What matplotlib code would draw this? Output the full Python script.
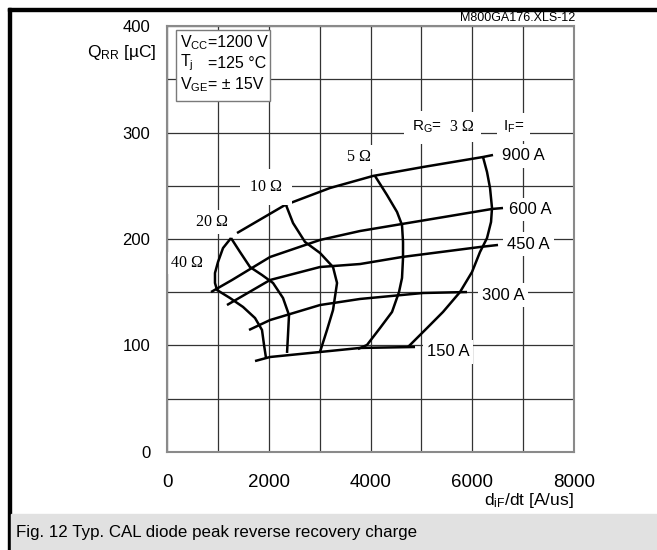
import matplotlib.pyplot as plt
from matplotlib.patches import Rectangle

plt.rcParams['font.family'] = ['Liberation Sans', 'DejaVu Sans']
plt.rcParams['mathtext.fontset'] = 'custom'
plt.rcParams['mathtext.rm'] = 'Liberation Sans'
plt.rcParams['mathtext.it'] = 'Liberation Sans:italic'

# Q_rr vs di/dt at constant forward current (A/us, uC)
if_labels = ["900 A", "600 A", "450 A", "300 A", "150 A"]
didt_900 = [1376, 2319, 3204, 4049, 5032, 6211, 6408]
qrr_900 = [205.6, 231.9, 247.9, 259.2, 267.6, 277.0, 278.9]
didt_600 = [865, 1278, 2025, 3007, 3794, 4619, 5563, 6388, 6604]
qrr_600 = [150.2, 161.5, 183.1, 199.1, 207.5, 214.1, 221.6, 228.2, 229.1]
didt_450 = [1179, 2025, 3007, 3794, 4619, 6152, 6506]
qrr_450 = [138.0, 161.5, 173.7, 176.5, 183.1, 192.5, 194.4]
didt_300 = [1612, 2025, 3007, 3794, 5032, 5897]
qrr_300 = [114.6, 123.9, 138.0, 143.7, 149.3, 150.2]
didt_150 = [1730, 2025, 3007, 3794, 4875]
qrr_150 = [85.4, 89.2, 93.9, 97.7, 98.6]

# constant gate resistance curves
rg_labels = ["3 Ω", "5 Ω", "10 Ω", "20 Ω", "40 Ω"]
didt_3 = [6211, 6290, 6349, 6388, 6369, 6290, 6152, 5995, 5759, 5425, 5111, 4737]
qrr_3 = [277.0, 262.9, 247.9, 229.1, 216.0, 200.9, 187.8, 169.0, 150.2, 131.5, 116.4, 98.6]
didt_5 = [4088, 4324, 4521, 4619, 4639, 4639, 4619, 4560, 4423, 4187, 3931, 3754]
qrr_5 = [259.2, 241.3, 225.4, 213.1, 197.2, 182.2, 163.4, 150.2, 131.5, 116.4, 100.5, 96.7]
didt_10 = [2339, 2477, 2713, 3007, 3263, 3342, 3263, 3145, 3007]
qrr_10 = [231.9, 215.0, 197.2, 186.9, 173.7, 158.7, 133.3, 114.6, 93.9]
didt_20 = [1258, 1435, 1631, 1867, 2084, 2280, 2398, 2378, 2359]
qrr_20 = [200.9, 187.8, 173.7, 166.2, 158.7, 144.6, 128.6, 109.9, 93.0]
didt_40 = [1258, 1101, 1002, 943, 943, 983, 1238, 1494, 1730, 1867, 1907, 1946]
qrr_40 = [200.9, 191.5, 178.4, 168.1, 158.7, 152.1, 144.6, 136.2, 125.8, 114.6, 100.5, 88.3]

fig = plt.figure(figsize=(6.57, 5.5), dpi=100)
ax = fig.add_axes([0.2542, 0.1782, 0.6195, 0.7745])

ax.set_xlim(0, 8000)
ax.set_ylim(0, 400)
ax.set_xticks(range(0, 8001, 1000), minor=False)
ax.set_xticklabels(["0", "", "2000", "", "4000", "", "6000", "", "8000"])
ax.set_yticks(range(0, 401, 50))
ax.set_yticklabels(["0", "", "100", "", "200", "", "300", "", "400"])
ax.tick_params(axis='x', length=0, pad=16, labelsize=13.5)
ax.tick_params(axis='y', length=0, pad=12, labelsize=12)
ax.grid(True, color='#333333', lw=0.9)
ax.set_axisbelow(True)
for s in ax.spines.values():
    s.set_color('#8a8a8a')
    s.set_linewidth(1.5)
    s.set_zorder(5)

curve = dict(color='black', lw=1.8, solid_capstyle='butt', zorder=3)
for xs, ys in [(didt_900, qrr_900), (didt_600, qrr_600), (didt_450, qrr_450),
               (didt_300, qrr_300), (didt_150, qrr_150)]:
    ax.plot(xs, ys, **curve)
for xs, ys in [(didt_3, qrr_3), (didt_5, qrr_5), (didt_10, qrr_10),
               (didt_20, qrr_20), (didt_40, qrr_40)]:
    ax.plot(xs, ys, **curve)

# labels sit on white patches that break the grid
white = dict(facecolor='white', edgecolor='none', pad=3)
for lab, x, y in zip(if_labels, [6998, 7135, 7096, 6604, 5523],
                     [278, 228, 195.3, 147.4, 93.9]):
    ax.text(x, y, lab, fontsize=12, ha='center', va='center',
            bbox=white, zorder=4)
serif = ['Liberation Serif', 'DejaVu Serif']
for lab, x, y, p in zip(rg_labels, [5799, 3774, 1946, 885, 393],
                        [305, 277, 248.8, 216, 177.5], [5, 3, 7, 3, 2]):
    ax.text(x, y, lab, fontsize=11.5, family=serif, ha='center', va='center',
            bbox=dict(facecolor='white', edgecolor='none', pad=p), zorder=4)
ax.text(4816, 305, "R$_{\\mathrm{G}}$=", fontsize=11, ha='left', va='center',
        bbox=dict(facecolor='white', edgecolor='none', pad=6), zorder=4)
ax.text(6604, 305, "I$_{\\mathrm{F}}$=", fontsize=11, ha='left', va='center',
        bbox=dict(facecolor='white', edgecolor='none', pad=4), zorder=4)

# test conditions box
ax.add_patch(Rectangle((0.022, 0.824), 0.231, 0.167, transform=ax.transAxes,
                       facecolor='white', edgecolor='#7a7a7a', lw=1, zorder=5))
cond_names = ["V$_{\\mathrm{CC}}$", "T$_{\\mathrm{j}}$", "V$_{\\mathrm{GE}}$"]
cond_vals = ["=1200 V", "=125 °C", "= ± 15V"]
for name, val, yy in zip(cond_names, cond_vals, [0.962, 0.913, 0.862]):
    ax.text(0.032, yy, name, transform=ax.transAxes, fontsize=11.5,
            ha='left', va='center', zorder=6)
    ax.text(0.101, yy, val, transform=ax.transAxes, fontsize=11.5,
            ha='left', va='center', zorder=6)

ax.text(-0.025, 0.937, "Q$_{\\mathrm{RR}}$ [µC]", transform=ax.transAxes,
        fontsize=12.5, ha='right', va='center')
ax.text(1.0, -0.115, "d$_{\\mathrm{iF}}$/dt [A/us]", transform=ax.transAxes,
        fontsize=12.5, ha='right', va='center')
ax.text(1.002, 1.019, "M800GA176.XLS-12", transform=ax.transAxes,
        fontsize=9, ha='right', va='center')

# page frame and caption band
fig.add_artist(Rectangle((8 / 657, 1 - 11 / 550), 649 / 657, 3 / 550,
                         transform=fig.transFigure, color='black'))
fig.add_artist(Rectangle((8 / 657, 0), 3 / 657, 542 / 550,
                         transform=fig.transFigure, color='black'))
fig.add_artist(Rectangle((11 / 657, 0), 646 / 657, 36 / 550,
                         transform=fig.transFigure, color='#e1e1e1'))
fig.text(16 / 657, 18 / 550, "Fig. 12 Typ. CAL diode peak reverse recovery charge",
         fontsize=12.2, ha='left', va='center')

fig.savefig("out.png", dpi=100)
